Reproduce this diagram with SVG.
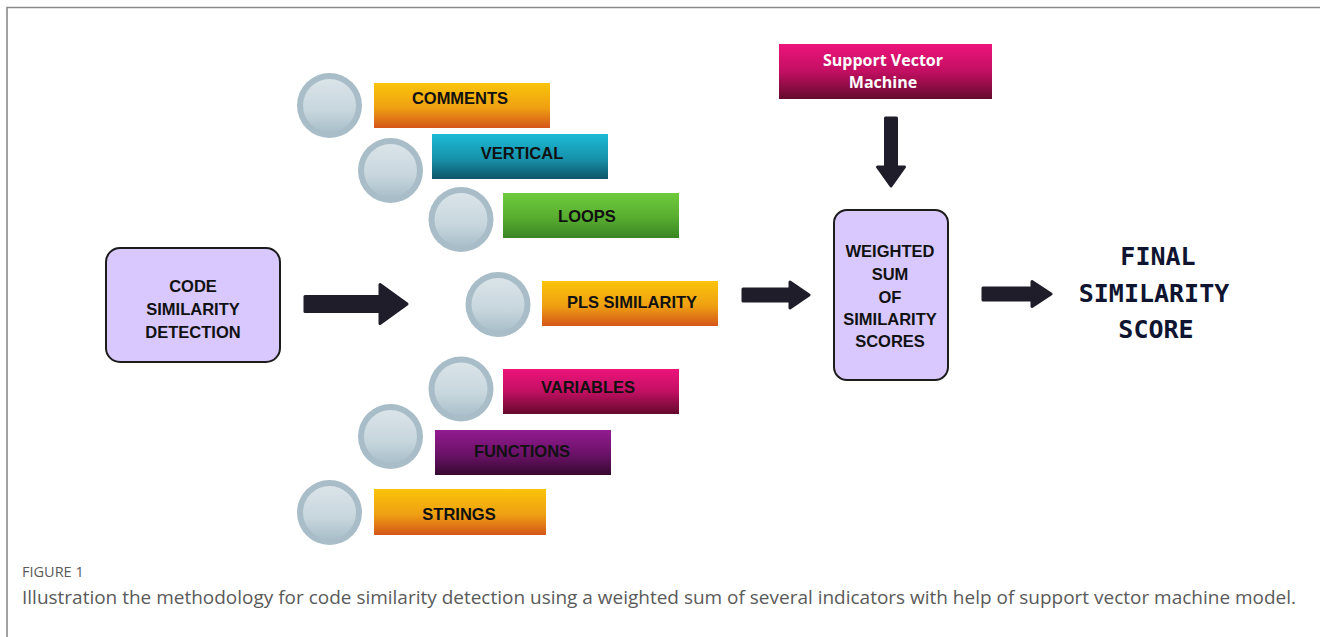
<svg xmlns="http://www.w3.org/2000/svg" width="1320" height="637" viewBox="0 0 1320 637">
  <defs>
    <linearGradient id="gOrange" x1="0" y1="0" x2="0" y2="1">
      <stop offset="0" stop-color="#fac40a"/>
      <stop offset="0.55" stop-color="#efa012"/>
      <stop offset="1" stop-color="#d4561a"/>
    </linearGradient>
    <linearGradient id="gCyan" x1="0" y1="0" x2="0" y2="1">
      <stop offset="0" stop-color="#1cbad6"/>
      <stop offset="0.55" stop-color="#1792ab"/>
      <stop offset="1" stop-color="#0e5569"/>
    </linearGradient>
    <linearGradient id="gGreen" x1="0" y1="0" x2="0" y2="1">
      <stop offset="0" stop-color="#6ecb3c"/>
      <stop offset="0.55" stop-color="#58ad30"/>
      <stop offset="1" stop-color="#398524"/>
    </linearGradient>
    <linearGradient id="gPink" x1="0" y1="0" x2="0" y2="1">
      <stop offset="0" stop-color="#ec147b"/>
      <stop offset="0.5" stop-color="#c20f62"/>
      <stop offset="1" stop-color="#640a2c"/>
    </linearGradient>
    <linearGradient id="gPurple" x1="0" y1="0" x2="0" y2="1">
      <stop offset="0" stop-color="#921b90"/>
      <stop offset="0.55" stop-color="#6a1267"/>
      <stop offset="1" stop-color="#370930"/>
    </linearGradient>
    <linearGradient id="gDisc" x1="0" y1="0" x2="0" y2="1">
      <stop offset="0" stop-color="#dae4e9"/>
      <stop offset="0.6" stop-color="#c7d6dd"/>
      <stop offset="1" stop-color="#a9bfca"/>
    </linearGradient>
    <g id="bullet">
      <circle r="32.5" fill="#a8bdc8"/>
      <circle r="26.5" fill="url(#gDisc)"/>
    </g>
  </defs>
  <style>
    .frame { stroke: #8a8a8a; stroke-width: 1.6; fill: none; }
    .lbl { font-family: "Liberation Sans", Arial, sans-serif; font-weight: bold; font-size: 16.5px; fill: #111; text-anchor: middle; }
    .svm { font-family: "Open Sans", "Liberation Sans", sans-serif; font-weight: bold; font-size: 16px; fill: #fff; text-anchor: middle; }
    .box { fill: #d8c8fd; stroke: #1c1c1c; stroke-width: 2; }
    .arrow { fill: #1f1d29; stroke: #1f1d29; stroke-width: 3; stroke-linejoin: round; }
    .final { font-family: "DejaVu Sans Mono", "Liberation Mono", monospace; font-weight: bold; font-size: 25px; fill: #0f1530; text-anchor: middle; }
    .capHead { font-family: "Open Sans", "Noto Sans", sans-serif; font-size: 14.5px; fill: #5a5a5a; }
    .cap { font-family: "Open Sans", "Noto Sans", sans-serif; font-size: 18.8px; fill: #5a5a5a; }
  </style>

  <rect width="1320" height="637" fill="#fff"/>
  <!-- page frame: top and left rules -->
  <path class="frame" d="M7,637 V7.5 H1320"/>

  <!-- input -->
  <g id="code-detection">
    <rect class="box" x="106" y="248" width="174" height="114" rx="14"/>
    <text class="lbl" x="193" y="292">CODE</text>
    <text class="lbl" x="193" y="315">SIMILARITY</text>
    <text class="lbl" x="193" y="338">DETECTION</text>
  </g>

  <!-- indicators -->
  <g id="comments">
    <use href="#bullet" x="329.5" y="105.5"/>
    <rect x="374" y="83" width="176" height="45" fill="url(#gOrange)"/>
    <text class="lbl" x="460" y="104">COMMENTS</text>
  </g>
  <g id="vertical">
    <use href="#bullet" x="390.5" y="170.5"/>
    <rect x="432" y="134" width="176" height="45" fill="url(#gCyan)"/>
    <text class="lbl" x="522" y="159">VERTICAL</text>
  </g>
  <g id="loops">
    <use href="#bullet" x="461" y="219.5"/>
    <rect x="503" y="193" width="176" height="45" fill="url(#gGreen)"/>
    <text class="lbl" x="587" y="222">LOOPS</text>
  </g>
  <g id="pls-similarity">
    <use href="#bullet" x="498" y="304.5"/>
    <rect x="542" y="281" width="176" height="45" fill="url(#gOrange)"/>
    <text class="lbl" x="632" y="308">PLS SIMILARITY</text>
  </g>
  <g id="variables">
    <use href="#bullet" x="461" y="389"/>
    <rect x="503" y="369" width="176" height="45" fill="url(#gPink)"/>
    <text class="lbl" x="588" y="393">VARIABLES</text>
  </g>
  <g id="functions">
    <use href="#bullet" x="390.5" y="436.5"/>
    <rect x="435" y="430" width="176" height="45" fill="url(#gPurple)"/>
    <text class="lbl" x="522" y="457">FUNCTIONS</text>
  </g>
  <g id="strings">
    <use href="#bullet" x="329.5" y="512.5"/>
    <rect x="374" y="489" width="172" height="46" fill="url(#gOrange)"/>
    <text class="lbl" x="459" y="520">STRINGS</text>
  </g>

  <!-- model -->
  <g id="svm">
    <rect x="779" y="44" width="213" height="55" fill="url(#gPink)"/>
    <text class="svm" x="883" y="66">Support Vector</text>
    <text class="svm" x="883" y="88">Machine</text>
  </g>

  <g id="weighted-sum">
    <rect class="box" x="834" y="210" width="114" height="170" rx="13"/>
    <text class="lbl" x="890" y="257">WEIGHTED</text>
    <text class="lbl" x="890" y="280">SUM</text>
    <text class="lbl" x="890" y="303">OF</text>
    <text class="lbl" x="890" y="325">SIMILARITY</text>
    <text class="lbl" x="890" y="347">SCORES</text>
  </g>

  <g id="final-score">
    <text class="final" x="1158" y="265">FINAL</text>
    <text class="final" x="1154" y="302">SIMILARITY</text>
    <text class="final" x="1156" y="338">SCORE</text>
  </g>

  <!-- connectors -->
  <g id="connectors">
    <path class="arrow" d="M305,296.5 H380 V284.5 L407,304 L380,323.5 V311.5 H305 Z"/>
    <path class="arrow" d="M743,289 H790 V282 L809,295 L790,308 V301 H743 Z"/>
    <path class="arrow" d="M983,288 H1032 V281.5 L1051,294 L1032,306.5 V300 H983 Z"/>
    <path class="arrow" d="M885.5,118 V167 H877.5 L891,186 L904.5,167 H896.5 V118 Z"/>
  </g>

  <!-- caption -->
  <text class="capHead" x="22" y="577">FIGURE 1</text>
  <text class="cap" x="22" y="604" textLength="1274" lengthAdjust="spacingAndGlyphs">Illustration the methodology for code similarity detection using a weighted sum of several indicators with help of support vector machine model.</text>
</svg>
